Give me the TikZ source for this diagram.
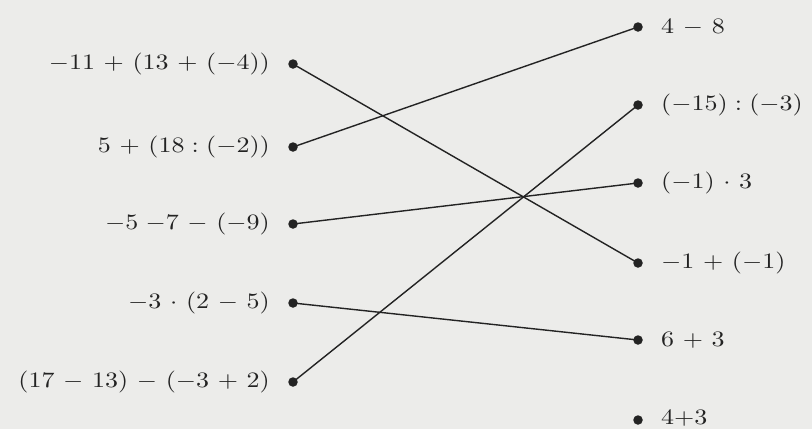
\documentclass[tikz,border=0pt]{standalone}
\usepackage{amsmath}
\usepackage{graphicx}
\definecolor{bg}{RGB}{236,236,234}
\definecolor{ink}{RGB}{35,35,35}
\newcommand{\exprtxt}[1]{\scalebox{2.6}[2.2]{$\medmuskip=6mu\thickmuskip=5mu #1$}}
\begin{document}
\begin{tikzpicture}[x=1pt,y=-1pt,
  dot/.style={circle,fill=ink,inner sep=0pt,minimum size=9.5pt},
  lbl/.style={text=ink,inner sep=0pt},
  link/.style={draw=ink,line width=1.4pt}]
\fill[bg] (0,0) rectangle (812,429);
\useasboundingbox (0,0) rectangle (812,429);
% left dots
\node[dot] (l1) at (293,64) {};
\node[dot] (l2) at (293,147) {};
\node[dot] (l3) at (293,224) {};
\node[dot] (l4) at (293,303) {};
\node[dot] (l5) at (293,382) {};
% right dots
\node[dot] (r1) at (638,27) {};
\node[dot] (r2) at (638,105) {};
\node[dot] (r3) at (638,183) {};
\node[dot] (r4) at (638,263) {};
\node[dot] (r5) at (638,340) {};
\node[dot] (r6) at (638,420) {};
% left labels
\node[lbl,anchor=east] (t1) at (270,64) {\exprtxt{-11+(13+(-4))}};
\node[lbl,anchor=east] (t2) at (270,147) {\exprtxt{5+(18:(-2))}};
\node[lbl,anchor=east] (t3) at (270,224) {\exprtxt{-5\;{-7}-(-9)}};
\node[lbl,anchor=east] (t4) at (270,303) {\exprtxt{-3\cdot(2-5)}};
\node[lbl,anchor=east] (t5) at (270,382) {\exprtxt{(17-13)-(-3+2)}};
% right labels
\node[lbl,anchor=west] (s1) at (661,27) {\exprtxt{4-8}};
\node[lbl,anchor=west] (s2) at (661,105) {\exprtxt{(-15):(-3)}};
\node[lbl,anchor=west] (s3) at (661,183) {\exprtxt{(-1)\cdot3}};
\node[lbl,anchor=west] (s4) at (661,263) {\exprtxt{-1+(-1)}};
\node[lbl,anchor=west] (s5) at (661,340) {\exprtxt{6+3}};
\node[lbl,anchor=west] (s6) at (661,418) {\exprtxt{4{+}3}};
% connectors
\draw[link] (l1.center) -- (r4.center);
\draw[link] (l2.center) -- (r1.center);
\draw[link] (l3.center) -- (r3.center);
\draw[link] (l4.center) -- (r5.center);
\draw[link] (l5.center) -- (r2.center);
\end{tikzpicture}
\end{document}
